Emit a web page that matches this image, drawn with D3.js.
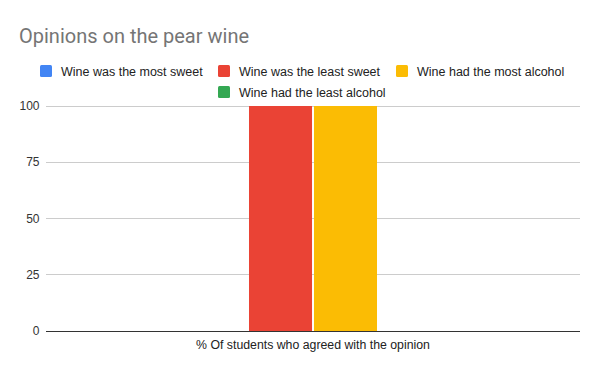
<!DOCTYPE html>
<html><head><meta charset="utf-8">
<script src="https://cdn.jsdelivr.net/npm/d3@7"></script>
<style>body{margin:0;background:#fff;}svg{display:block;font-family:"Liberation Sans",Arial,sans-serif;}</style>
</head><body>
<svg id="c" width="600" height="371"></svg>
<script>
const categories = ["% Of students who agreed with the opinion"];
const seriesNames = ["Wine was the most sweet","Wine was the least sweet","Wine had the most alcohol","Wine had the least alcohol"];
const seriesColors = ["#4285f4","#ea4335","#fbbc04","#34a853"];
const seriesValues = [[0],[100],[100],[0]];
const yTicks = [0,25,50,75,100];

const svg = d3.select("#c");
const W=600,H=371;
const m={left:46,right:20,top:106,bottom:40};
const x0 = d3.scaleBand().domain(categories).range([m.left, W-m.right]).paddingInner(0).paddingOuter(0.535);
const x1 = d3.scaleBand().domain(seriesNames).range([0, x0.bandwidth()]).paddingInner(0.03);
const y = d3.scaleLinear().domain([0,100]).range([331,106]);

svg.append("text").attr("x",19).attr("y",43).attr("font-size",20).attr("font-family","Roboto,Arial,sans-serif").attr("fill","#757575").text("Opinions on the pear wine");

// grid
svg.append("g").selectAll("line").data(yTicks.filter(d=>d>0)).join("line")
  .attr("x1",m.left).attr("x2",W-m.right).attr("y1",d=>y(d)).attr("y2",d=>y(d))
  .attr("stroke","#cccccc").attr("stroke-width",1).attr("shape-rendering","crispEdges");

svg.append("g").selectAll("text").data(yTicks).join("text")
  .attr("x",39.5).attr("y",d=>y(d)+4).attr("text-anchor","end").attr("font-size",12).attr("fill","#333")
  .text(d=>d);

// bars
const g = svg.append("g");
categories.forEach((c,ci)=>{
  seriesNames.forEach((s,si)=>{
    const v = seriesValues[si][ci];
    g.append("rect").attr("x",x0(c)+x1(s)).attr("y",y(v)).attr("width",x1.bandwidth()).attr("height",y(0)-y(v))
      .attr("fill",seriesColors[si]);
  });
});

svg.append("line").attr("x1",m.left).attr("x2",W-m.right).attr("y1",y(0)).attr("y2",y(0))
  .attr("stroke","#333").attr("stroke-width",1).attr("shape-rendering","crispEdges");

svg.append("g").selectAll("text").data(categories).join("text")
  .attr("x",d=>x0(d)+x0.bandwidth()/2).attr("y",y(0)+18).attr("text-anchor","middle")
  .attr("font-size",12.3).attr("fill","#222").text(d=>d);

// legend
const legPos = [[40,71],[218,71],[396,71],[218,92]];
const lg = svg.append("g");
seriesNames.forEach((s,i)=>{
  const [lx,ly]=legPos[i];
  lg.append("rect").attr("x",lx).attr("y",ly-6).attr("width",12).attr("height",12).attr("rx",1.5).attr("fill",seriesColors[i]);
  lg.append("text").attr("x",lx+21).attr("y",ly+4.5).attr("font-size",12.5).attr("fill","#222").text(s);
});
</script>
</body></html>
